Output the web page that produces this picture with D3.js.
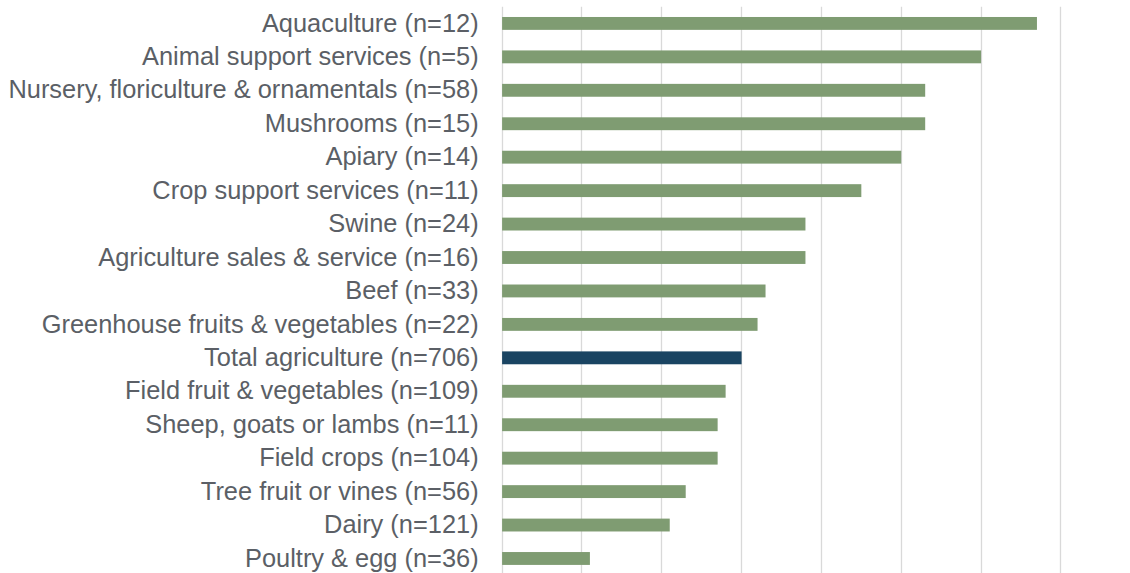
<!DOCTYPE html>
<html>
<head>
<meta charset="utf-8">
<script src="https://cdn.jsdelivr.net/npm/d3@7"></script>
<style>
  html, body { margin: 0; padding: 0; background: #ffffff; }
  svg { display: block; }
</style>
</head>
<body>
<div id="chart"></div>
<script>
const categories = [
  "Aquaculture (n=12)",
  "Animal support services (n=5)",
  "Nursery, floriculture & ornamentals (n=58)",
  "Mushrooms (n=15)",
  "Apiary (n=14)",
  "Crop support services (n=11)",
  "Swine (n=24)",
  "Agriculture sales & service (n=16)",
  "Beef (n=33)",
  "Greenhouse fruits & vegetables (n=22)",
  "Total agriculture (n=706)",
  "Field fruit & vegetables (n=109)",
  "Sheep, goats or lambs (n=11)",
  "Field crops (n=104)",
  "Tree fruit or vines (n=56)",
  "Dairy (n=121)",
  "Poultry & egg (n=36)"
];
const values = [6.7, 6.0, 5.3, 5.3, 5.0, 4.5, 3.8, 3.8, 3.3, 3.2, 3.0, 2.8, 2.7, 2.7, 2.3, 2.1, 1.1];
const highlight = ["Total agriculture (n=706)"];
const gridTicks = [0, 1, 2, 3, 4, 5, 6, 7];

const W = 1130, H = 573;
const margin = { top: 6.7, right: 69.6, bottom: -2.2, left: 501.6 };

const svg = d3.select("#chart").append("svg")
  .attr("width", W).attr("height", H);

const x = d3.scaleLinear().domain([0, 7]).range([margin.left, W - margin.right]);
const y = d3.scaleBand().domain(categories)
  .range([margin.top, H - margin.bottom])
  .paddingInner(0.615).paddingOuter(0.3075);

// gridlines
svg.append("g")
  .selectAll("line")
  .data(gridTicks)
  .join("line")
  .attr("x1", d => Math.round(x(d)) + 0.5)
  .attr("x2", d => Math.round(x(d)) + 0.5)
  .attr("y1", margin.top)
  .attr("y2", H)
  .attr("stroke", "#d9d9d9")
  .attr("stroke-width", 1.3);

// bars
svg.append("g")
  .selectAll("rect")
  .data(categories.map((c, i) => ({ c, v: values[i] })))
  .join("rect")
  .attr("x", x(0) + 0.5)
  .attr("y", d => y(d.c))
  .attr("width", d => x(d.v) - x(0))
  .attr("height", y.bandwidth())
  .attr("fill", d => highlight.includes(d.c) ? "#1a4462" : "#7f9c72");

// category axis labels
const yAxis = d3.axisLeft(y).tickSize(0).tickPadding(23);
const gy = svg.append("g")
  .attr("transform", `translate(${margin.left},0)`)
  .call(yAxis);
gy.select(".domain").remove();
gy.selectAll("text")
  .attr("font-family", "'Liberation Sans', Arial, sans-serif")
  .attr("font-size", 25.4)
  .attr("fill", "#5b5f66")
  .attr("dy", "0.32em");
</script>
</body>
</html>
